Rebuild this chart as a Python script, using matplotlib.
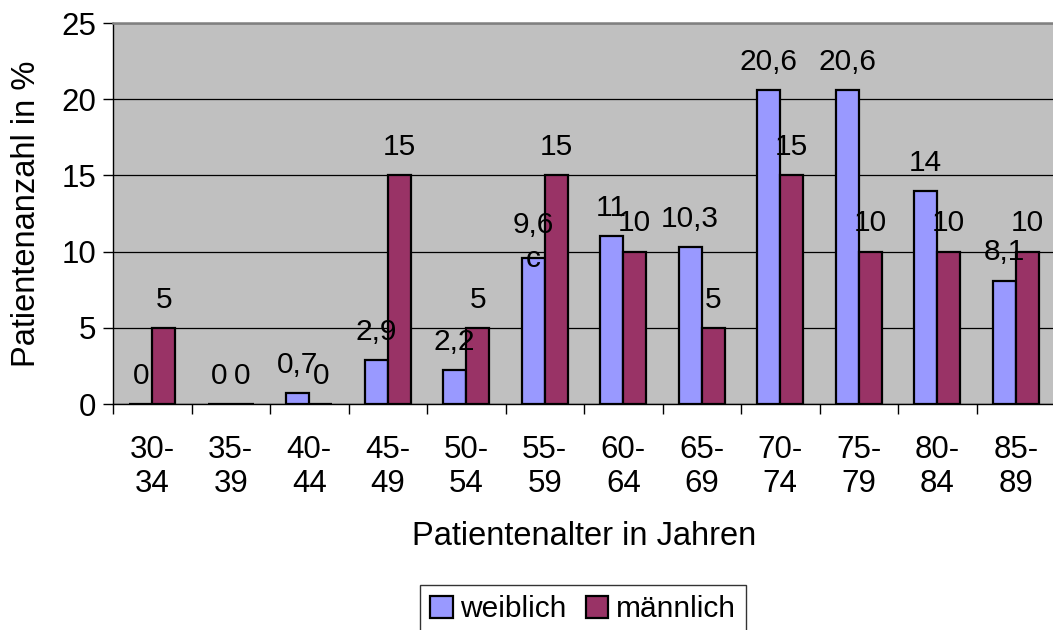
import numpy as np
import matplotlib
matplotlib.use("Agg")
import matplotlib.pyplot as plt

plt.rcParams['font.family'] = ['Liberation Sans', 'DejaVu Sans']

age_groups = ["30-\n34", "35-\n39", "40-\n44", "45-\n49", "50-\n54", "55-\n59",
              "60-\n64", "65-\n69", "70-\n74", "75-\n79", "80-\n84", "85-\n89"]
weiblich = [0, 0, 0.7, 2.9, 2.2, 9.6, 11, 10.3, 20.6, 20.6, 14, 8.1]
maennlich = [5, 0, 0, 15, 5, 15, 10, 5, 15, 10, 10, 10]
weiblich_labels = ["0", "0", "0,7", "2,9", "2,2", "9,6\nc", "11", "10,3",
                   "20,6", "20,6", "14", "8,1"]
maennlich_labels = ["5", "0", "0", "15", "5", "15", "10", "5", "15", "10", "10", "10"]

fig = plt.figure(figsize=(10.53, 6.3), dpi=100)
W, H = 1053, 630
ax = fig.add_axes([113 / W, 1 - 404 / H, 942 / W, 381 / H])
ax.set_facecolor("#C0C0C0")

x = np.arange(len(age_groups))
bw = 0.293
ax.bar(x - bw / 2, weiblich, bw, color="#9999FF", edgecolor="black",
       linewidth=1.6, label="weiblich", zorder=3)
ax.bar(x + bw / 2, maennlich, bw, color="#993366", edgecolor="black",
       linewidth=1.6, label="männlich", zorder=3)

# value labels above the bars
for i in range(len(age_groups)):
    dy = 14.5
    ls = 1.2
    if "\n" in weiblich_labels[i]:
        dy = -7
        ls = 1.3
    ax.annotate(weiblich_labels[i], (x[i] - bw / 2, weiblich[i]),
                xytext=(0, dy), textcoords="offset points",
                ha="center", va="baseline", fontsize=21.5, linespacing=ls,
                zorder=5)
    ax.annotate(maennlich_labels[i], (x[i] + bw / 2, maennlich[i]),
                xytext=(0, 14.5), textcoords="offset points",
                ha="center", va="baseline", fontsize=21.5, zorder=5)

ax.set_xlim(-0.5, len(age_groups) - 0.5)
ax.set_ylim(0, 25)
ax.set_yticks([0, 5, 10, 15, 20, 25])
ax.yaxis.grid(True, color="black", linewidth=0.9, zorder=1)
ax.set_axisbelow(True)

ax.set_xticks(x)
ax.set_xticklabels(age_groups, fontsize=22.5, linespacing=1.2)
ax.set_xticks(np.arange(-0.5, len(age_groups)), minor=True)
ax.tick_params(axis="x", which="major", length=0, pad=22)
ax.tick_params(axis="x", which="minor", length=7, width=1, direction="out")
ax.tick_params(axis="y", length=7, width=1, labelsize=22.5, pad=5)

ax.spines["top"].set_color("#808080")
ax.spines["top"].set_linewidth(1.8)
ax.spines["right"].set_visible(False)
ax.spines["left"].set_linewidth(1)
ax.spines["bottom"].set_linewidth(1)

ax.set_xlabel("Patientenalter in Jahren", fontsize=23.5, labelpad=16)
ax.set_ylabel("Patientenanzahl in %", fontsize=23.5, labelpad=14)

leg = fig.legend(loc="upper left", bbox_to_anchor=(420 / W, 1 - 585 / H),
                 ncol=2, fontsize=21.5, frameon=True, fancybox=False,
                 edgecolor="black", handlelength=0.75, handleheight=0.75,
                 handletextpad=0.25, columnspacing=0.65, borderpad=0.35,
                 borderaxespad=0)
leg.get_frame().set_linewidth(1)

fig.savefig("out.png", dpi=100)
